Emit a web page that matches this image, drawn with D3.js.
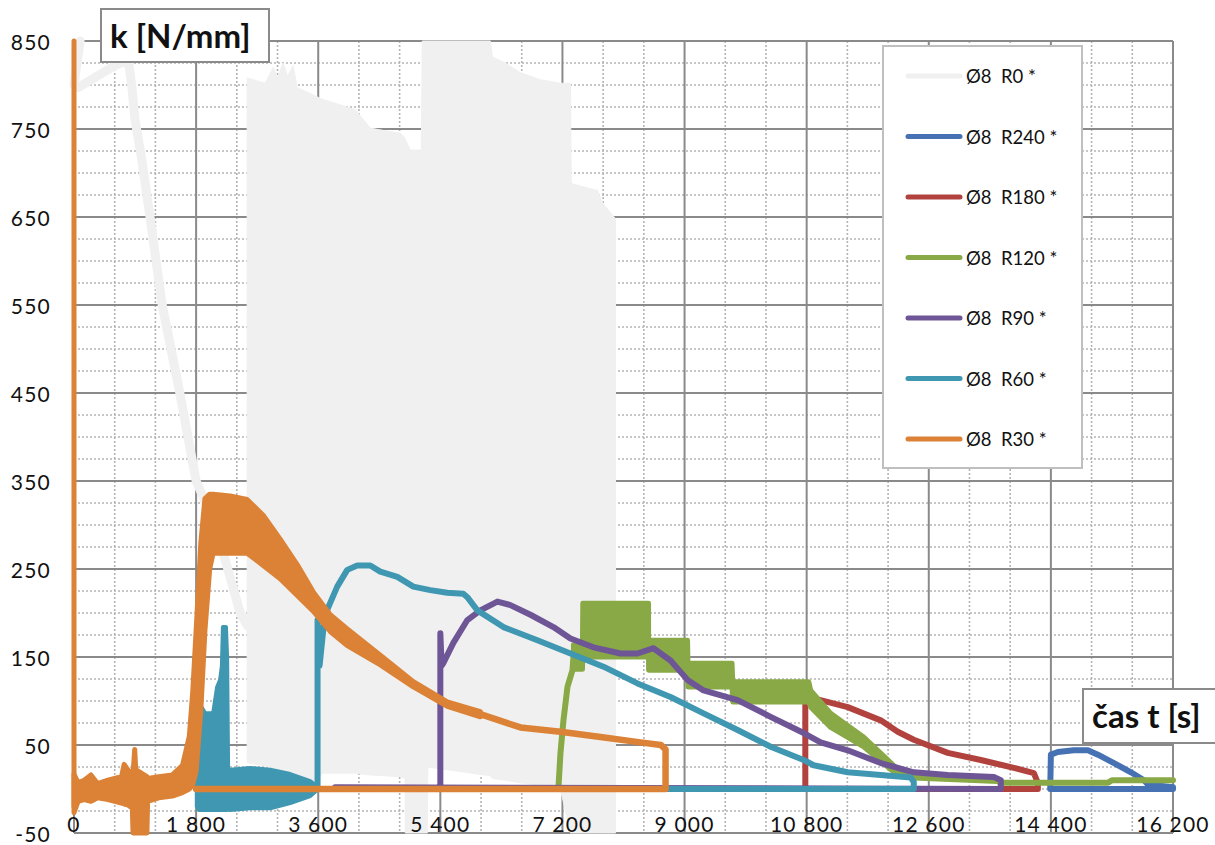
<!DOCTYPE html>
<html>
<head>
<meta charset="utf-8">
<script src="https://cdn.jsdelivr.net/npm/d3@7"></script>
<style>
  body { margin: 0; background: #fff; }
  svg text { font-family: Lato, "Open Sans", sans-serif; fill: #111; }
</style>
</head>
<body>
<svg id="chart" width="1215" height="845"></svg>
<script>
// axis ticks
var xTicks = [0, 1800, 3600, 5400, 7200, 9000, 10800, 12600, 14400, 16200];
var yTicks = [850, 750, 650, 550, 450, 350, 250, 150, 50, -50];

var seriesNames = ["Ø8  R0 *", "Ø8  R240 *", "Ø8  R180 *", "Ø8  R120 *", "Ø8  R90 *", "Ø8  R60 *", "Ø8  R30 *"];
var seriesColors = ["#f0f0f0", "#4672b4", "#b2423e", "#88a946", "#6e5596", "#3f97b1", "#dc8236"];

// Ø8 R0 - thin descending part [t, k] and the dense block [t, upper, lower]
var r0Trace = [[90,850],[0,800],[60,797],[600,822],[800,828],[850,800],[900,760],[1000,715],[1120,650],
  [1300,550],[1560,450],[1800,350],[2000,315],[2230,260],[2450,200],[2560,185]];
var r0Band = [[2552,808,30],[2818,802,26],[2940,820,24],[3000,808,22],[3080,825,20],[3150,810,18],
  [3230,822,15],[3290,797,12],[3600,786,8],[3650,784,18],[4146,772,18],[4367,751,16],[4810,745,14],
  [4880,740,12],[4884,738,-50],[4957,726,-50],[5120,726,-50],[5134,850,-50],[5208,850,-50],[5215,850,25],
  [6138,850,15],[6167,832,12],[6359,825,10],[6580,814,7],[6875,806,4],[7170,802,0],[7318,802,-50],
  [7330,688,-50],[7716,680,-50],[7800,665,-50],[7982,648,-50]];

// Ø8 R240
var r240Trace = [[14390,0],[14400,39],[14503,42],[14739,44],[14946,44],[15093,39],[15330,29.5],[15580,19],
  [15772,10],[15831,5],[16200,2],[16200,0],[14390,0]];

// Ø8 R180
var r180Trace = [[10780,0],[10780,104],[10903,103],[11405,93],[11892,78],[12143,65],[12379,56],[12880,41],
  [13367,33],[13854,24],[14149,18],[14208,7],[14208,0],[10780,0]];

// Ø8 R120
var r120Rise = [[7140,0],[7170,40],[7215,78],[7274,116],[7348,135],[7362,150]];
var r120Band = [[7362,164,136],[7495,164,136],[7500,211,150],[8469,211,150],[8470,169,135],[9044,169,135],
  [9050,143,116],[9700,143,116],[9710,122,99],[10830,122,99],[10860,112,93],[11154,86,70],[11641,59,48],
  [12039,30,22],[12187,19,15]];
var r120Tail = [[12187,17],[12379,13],[13618,9],[13662,7],[15241,7],[15300,10],[16200,10]];

// Ø8 R90
var r90Trace = [[5400,0],[5400,177],[5420,140],[5444,143],[5592,166],[5798,192],[5990,203],[6241,213],
  [6433,209],[6728,198],[7067,184],[7318,171],[7657,161],[8056,154],[8306,154],[8542,160],[8793,146],
  [9044,124],[9280,112],[9782,101],[10269,82],[10756,63.6],[11006,53],[11405,44],[11892,29.5],[12379,19],
  [12880,16],[13559,13.6],[13662,10],[13662,0],[3850,2]];

// Ø8 R60
var r60Band = [[1810,60,-20],[1840,93,-24],[1888,92,-24],[1933,86,-24],[2051,86,-24],[2110,116,-24],
  [2154,124,-24],[2180,140,-24],[2195,184,-24],[2240,184,-24],[2257,150,-24],[2272,21,-22],[2302,22,-24],
  [2597,24,-22],[2892,22,-22],[3187,17,-16],[3482,9,-8],[3600,2,0]];
var r60Trace = [[3590,0],[3590,192],[3620,140],[3680,185],[3740,205],[3880,230],[4028,249],[4175,254],
  [4367,254],[4515,247],[4766,241],[5002,230],[5252,226],[5503,223],[5739,222],[5798,218],[5946,203],
  [6330,184],[6831,169],[7318,154],[7805,139],[8306,120],[8793,104.5],[9280,86],[9782,67],[10269,48],
  [10756,33],[10903,27],[11405,19],[11892,16],[12334,13],[12379,8],[12379,0],[3590,0]];

// Ø8 R30
var r30Spine = [[0,-20],[0,850]];
var r30Band = [[0,17,-27],[60,7,-14],[150,10,-12],[250,16,-14],[350,6,-10],[500,10,-12],[700,14,-16],
  [740,28,-17],[790,22,-18],[860,17,-22],[870,17,-50],[895,45,-50],[910,22,-50],[1075,14,-50],[1085,12,-14],
  [1250,14,-10],[1450,16,-8],[1600,27,-4],[1700,60,0],[1750,110,5],[1800,180,20],[1870,280,90],
  [1930,330,180],[2000,335,250],[2051,335,268],[2300,333,268],[2552,329,268],[2789,311,254],[3039,284,239],
  [3290,255,220],[3526,224,202],[3777,198,179],[4028,182,163],[4515,152,141],[5002,122,116],[5503,99,94],
  [5990,88,82]];
var r30Trace = [[5990,85],[6580,70],[7170,65],[7760,59],[8350,53],[8650,50],[8720,45],[8720,0],[1800,0]];

var svg = d3.select("#chart");
var x = d3.scaleLinear().domain([0, 16200]).range([74, 1173]);
var y = d3.scaleLinear().domain([-50, 850]).range([833, 41]);

var fmt = d3.formatLocale({decimal: ",", thousands: " ", grouping: [3], currency: ["", ""]}).format(",d");

// grid
var grid = svg.append("g");
var yMinor = d3.range(-50, 851, 25).filter(function(v){ return yTicks.indexOf(v) < 0; });
var xMinor = d3.range(0, 16201, 600).filter(function(v){ return xTicks.indexOf(v) < 0; });

grid.selectAll(".ym").data(yMinor).enter().append("line")
  .attr("x1", x(0)).attr("x2", x(16200))
  .attr("y1", function(d){ return y(d); }).attr("y2", function(d){ return y(d); })
  .attr("stroke", "#b4b4b4").attr("stroke-width", 1.6).attr("stroke-dasharray", "2,2");
grid.selectAll(".xm").data(xMinor).enter().append("line")
  .attr("y1", y(850)).attr("y2", y(-50))
  .attr("x1", function(d){ return x(d); }).attr("x2", function(d){ return x(d); })
  .attr("stroke", "#b4b4b4").attr("stroke-width", 1.6).attr("stroke-dasharray", "2,2");
grid.selectAll(".yM").data(yTicks).enter().append("line")
  .attr("x1", x(0)).attr("x2", x(16200))
  .attr("y1", function(d){ return y(d); }).attr("y2", function(d){ return y(d); })
  .attr("stroke", "#8a8a8a").attr("stroke-width", 2);
grid.selectAll(".xM").data(xTicks).enter().append("line")
  .attr("y1", y(850)).attr("y2", y(-50))
  .attr("x1", function(d){ return x(d); }).attr("x2", function(d){ return x(d); })
  .attr("stroke", "#8a8a8a").attr("stroke-width", 2);

var line = d3.line().x(function(d){ return x(d[0]); }).y(function(d){ return y(d[1]); });
var band = d3.area().x(function(d){ return x(d[0]); })
  .y0(function(d){ return y(d[2]); }).y1(function(d){ return y(d[1]); });

function drawLine(data, color, w) {
  svg.append("path").attr("d", line(data)).attr("fill", "none")
    .attr("stroke", color).attr("stroke-width", w)
    .attr("stroke-linejoin", "round").attr("stroke-linecap", "round");
}
function drawBand(data, color, w) {
  svg.append("path").attr("d", band(data)).attr("fill", color)
    .attr("stroke", color).attr("stroke-width", w).attr("stroke-linejoin", "round");
}

// series in legend order (later on top)
drawLine(r0Trace, seriesColors[0], 9);
drawBand(r0Band, seriesColors[0], 1);

drawLine(r240Trace, seriesColors[1], 6);
drawLine(r180Trace, seriesColors[2], 6);

drawLine(r120Rise, seriesColors[3], 6);
drawBand(r120Band, seriesColors[3], 5);
drawLine(r120Tail, seriesColors[3], 6);

drawLine(r90Trace, seriesColors[4], 6);

drawBand(r60Band, seriesColors[5], 4);
drawLine(r60Trace, seriesColors[5], 6);

drawLine(r30Spine, seriesColors[6], 5);
drawBand(r30Band, seriesColors[6], 5);
drawLine(r30Trace, seriesColors[6], 6.5);

// tick labels
svg.selectAll(".yl").data(yTicks).enter().append("text")
  .attr("x", 51).attr("y", function(d){ return y(d); })
  .attr("text-anchor", "end").attr("dominant-baseline", "central")
  .attr("font-size", 21).attr("letter-spacing", 1.2)
  .text(function(d){ return d; });
svg.selectAll(".xl").data(xTicks).enter().append("text")
  .attr("x", function(d){ return x(d); }).attr("y", 832)
  .attr("text-anchor", "middle")
  .attr("font-size", 21).attr("letter-spacing", 1.2)
  .text(function(d){ return fmt(d); });

// axis title boxes
function titleBox(bx, by, bw, bh, label, tx, ty) {
  svg.append("rect").attr("x", bx).attr("y", by).attr("width", bw).attr("height", bh)
    .attr("fill", "#fff").attr("stroke", "#8a8a8a").attr("stroke-width", 2);
  svg.append("text").attr("x", tx).attr("y", ty)
    .attr("font-size", 33).attr("font-weight", "bold").text(label);
}
titleBox(101, 9, 168, 53, "k [N/mm]", 110, 48);
titleBox(1083, 689, 140, 54, "čas t [s]", 1092, 728);

// legend
var legend = svg.append("g");
legend.append("rect").attr("x", 883).attr("y", 46).attr("width", 199).attr("height", 422)
  .attr("fill", "#fff").attr("stroke", "#bfbfbf").attr("stroke-width", 2);
var items = legend.selectAll(".li").data(seriesNames).enter().append("g")
  .attr("transform", function(d, i){ return "translate(0," + (76 + i * 60.5) + ")"; });
items.append("line").attr("x1", 908).attr("x2", 960).attr("y1", 0).attr("y2", 0)
  .attr("stroke", function(d, i){ return seriesColors[i]; })
  .attr("stroke-width", 5).attr("stroke-linecap", "round");
items.append("text").attr("x", 966).attr("y", 0).attr("dominant-baseline", "central")
  .attr("font-size", 18.5).style("white-space", "pre").text(function(d){ return d; });
</script>
</body>
</html>
